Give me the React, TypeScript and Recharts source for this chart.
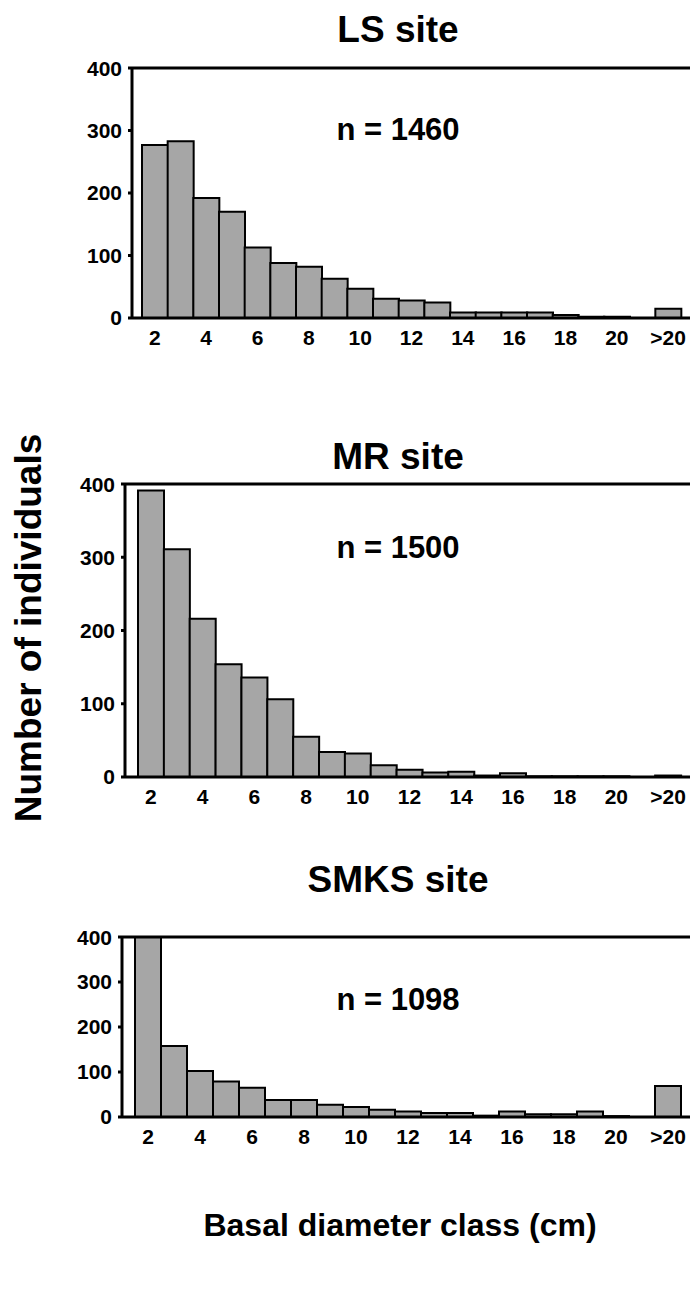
import React from 'react';
import { BarChart, Bar, XAxis, YAxis, ReferenceLine } from 'recharts';

// diameter classes, '' is the blank slot before the >20 class
const CLASSES = ['2', '3', '4', '5', '6', '7', '8', '9', '10', '11', '12', '13', '14', '15', '16', '17', '18', '19', '20', '', '>20'];

const LS_COUNTS = [277, 283, 192, 170, 113, 88, 82, 63, 47, 31, 28, 25, 9, 9, 9, 9, 5, 2, 2, 0, 15];
const MR_COUNTS = [391, 311, 216, 154, 136, 106, 55, 34, 32, 16, 10, 6, 7, 2, 5, 1, 1, 1, 1, 0, 2];
const SMKS_COUNTS = [400, 158, 102, 79, 65, 38, 38, 27, 22, 16, 12, 9, 9, 3, 12, 6, 6, 12, 2, 0, 69];

const Y_TICKS = [0, 100, 200, 300, 400];

const FONT = '"Liberation Sans", Arial, sans-serif';
const CHART_W = 700;
const PLOT_RIGHT = 692; // right frame sits just past the page edge

interface PanelProps {
  title: string;
  n: string;
  counts: number[];
  plotTop: number;
  plotBottom: number;
  plotLeft: number;
  padLeft: number;
  titleY: number;
  nY: number;
}

function Panel({ title, n, counts, plotTop, plotBottom, plotLeft, padLeft, titleY, nY }: PanelProps) {
  const data = CLASSES.map((c, i) => ({ cls: c, key: i, count: counts[i] }));
  const top = plotTop - 12;
  const height = plotBottom - plotTop + 12 + 44;
  const tickStyle = { fill: '#000', fontSize: 21, fontWeight: 700, fontFamily: FONT };

  return (
    <>
      <div style={{ position: 'absolute', left: 0, width: 796, top: titleY - 22, textAlign: 'center', fontSize: 37, fontWeight: 700, lineHeight: '44px' }}>
        {title}
      </div>
      <div style={{ position: 'absolute', top, left: 0 }}>
        <BarChart
          width={CHART_W}
          height={height}
          data={data}
          barCategoryGap={0}
          margin={{ top: 12, right: CHART_W - PLOT_RIGHT, bottom: 14, left: plotLeft - 60 }}
        >
          <XAxis
            dataKey="key"
            tickFormatter={(v) => CLASSES[v]}
            interval={1}
            height={30}
            padding={{ left: padLeft, right: 11 }}
            axisLine={{ stroke: '#000', strokeWidth: 3 }}
            tickLine={false}
            tick={tickStyle}
            tickMargin={6}
          />
          <YAxis
            domain={[0, 400]}
            ticks={Y_TICKS}
            width={60}
            axisLine={{ stroke: '#000', strokeWidth: 3 }}
            tickLine={{ stroke: '#000', strokeWidth: 3 }}
            tickSize={4}
            tickMargin={6}
            tick={tickStyle}
          />
          <YAxis
            yAxisId="r"
            orientation="right"
            mirror
            domain={[0, 400]}
            ticks={Y_TICKS}
            width={0}
            axisLine={{ stroke: '#000', strokeWidth: 3 }}
            tickLine={{ stroke: '#000', strokeWidth: 3 }}
            tickSize={5}
            tickFormatter={() => ''}
          />
          <ReferenceLine y={400} stroke="#000" strokeWidth={3} />
          <Bar dataKey="count" fill="#a6a6a6" stroke="#000" strokeWidth={2} isAnimationActive={false} />
        </BarChart>
      </div>
      <div style={{ position: 'absolute', left: 0, width: 796, top: nY - 18, textAlign: 'center', fontSize: 31, fontWeight: 700, lineHeight: '36px' }}>
        {n}
      </div>
    </>
  );
}

export default function App() {
  return (
    <div style={{ position: 'absolute', top: 0, left: 0, width: 690, height: 1302, background: '#fff', fontFamily: FONT, color: '#000', overflow: 'hidden' }}>
      <Panel title="LS site" n="n = 1460" counts={LS_COUNTS} plotTop={68} plotBottom={318} plotLeft={132} padLeft={10} titleY={30} nY={130} />
      <Panel title="MR site" n="n = 1500" counts={MR_COUNTS} plotTop={484} plotBottom={777} plotLeft={125} padLeft={13} titleY={457} nY={548} />
      <Panel title="SMKS site" n="n = 1098" counts={SMKS_COUNTS} plotTop={937} plotBottom={1117} plotLeft={122} padLeft={13} titleY={880} nY={1000} />

      <div style={{ position: 'absolute', left: 29, top: 628, width: 0, height: 0 }}>
        <div style={{ position: 'absolute', transform: 'translate(-50%, -50%) rotate(-90deg)', whiteSpace: 'nowrap', fontSize: 37, fontWeight: 700, lineHeight: '42px' }}>
          Number of individuals
        </div>
      </div>
      <div style={{ position: 'absolute', left: 0, width: 800, top: 1225 - 18, textAlign: 'center', fontSize: 32, fontWeight: 700, lineHeight: '36px' }}>
        Basal diameter class (cm)
      </div>
    </div>
  );
}
